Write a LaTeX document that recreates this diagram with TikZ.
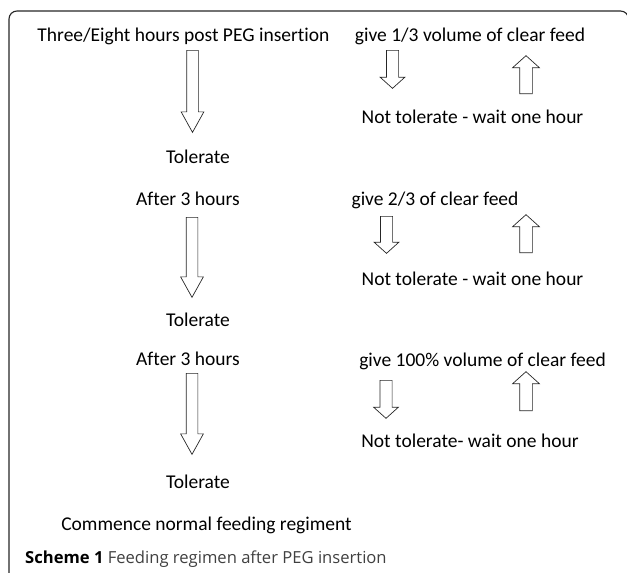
\documentclass[tikz,border=0pt]{standalone}
\usepackage{fontspec}
\setmainfont{Carlito}[Ligatures=NoCommon]
\newfontfamily\capfont{Open Sans}
\usetikzlibrary{shapes.arrows}
\begin{document}
\begin{tikzpicture}[x=1pt,y=-1pt,
  txt/.style={font=\fontsize{19.5}{22}\selectfont,anchor=base,inner sep=0pt},
  bigdown/.style={single arrow,draw=black!85,line width=0.7pt,inner ysep=0pt,inner xsep=5.5pt,
    minimum width=22pt,single arrow head extend=5.5pt,single arrow tip angle=58,
    shape border rotate=270,anchor=tail},
  smalldown/.style={single arrow,draw=black!85,line width=0.7pt,inner ysep=0pt,inner xsep=5.75pt,
    minimum width=24pt,single arrow head extend=6.25pt,single arrow tip angle=96,
    shape border rotate=270,anchor=tail},
  smallup/.style={single arrow,draw=black!85,line width=0.7pt,inner ysep=0pt,inner xsep=6pt,
    minimum width=26pt,single arrow head extend=7pt,single arrow tip angle=96,
    shape border rotate=90,anchor=tail}]
\useasboundingbox (0,0) rectangle (627,573);
% frame, open at the bottom
\draw[black!85,line width=1.1pt,rounded corners=8pt]
  (9,580) -- (9,11) -- (628.5,11) -- (628.5,580);
% left column
\node[txt] (start) at (183.5,41.5) {Three/Eight hours post PEG insertion};
\node[bigdown,minimum height=82pt] (down1) at (192.5,50) {};
\node[txt] (tol1) at (198,163) {Tolerate};
\node[txt] (after2) at (188,205) {After 3 hours};
\node[bigdown,minimum height=80pt] (down2) at (192,217) {};
\node[txt] (tol2) at (198,326) {Tolerate};
\node[txt] (after3) at (188,365) {After 3 hours};
\node[bigdown,minimum height=81pt] (down3) at (192,373) {};
\node[txt] (tol3) at (198,488) {Tolerate};
\node[txt] (commence) at (206.5,530) {Commence normal feeding regiment};
% right column
\node[txt] (give1) at (470,41.5) {give 1/3 volume of clear feed};
\node[smalldown,minimum height=38pt] (nd1) at (392.5,50) {};
\node[smallup,minimum height=38pt] (up1) at (526,94) {};
\node[txt] (nt1) at (472.5,123) {Not tolerate - wait one hour};
\node[txt] (give2) at (435,205) {give 2/3 of clear feed};
\node[smalldown,minimum height=37pt] (nd2) at (386.5,216) {};
\node[smallup,minimum height=38pt] (up2) at (526,253) {};
\node[txt] (nt2) at (472.5,285) {Not tolerate - wait one hour};
\node[txt] (give3) at (482.5,366) {give 100\% volume of clear feed};
\node[smalldown,minimum height=38pt] (nd3) at (386,380) {};
\node[smallup,minimum height=39pt] (up3) at (526,411) {};
\node[txt] (nt3) at (470,447) {Not tolerate- wait one hour};
% caption
\node[anchor=base west,inner sep=0pt,font=\capfont\fontsize{16.6}{19}\selectfont]
  (caption) at (25,563) {\textbf{Scheme 1} \textcolor{black!75}{Feeding regimen after PEG insertion}};
\end{tikzpicture}
\end{document}
